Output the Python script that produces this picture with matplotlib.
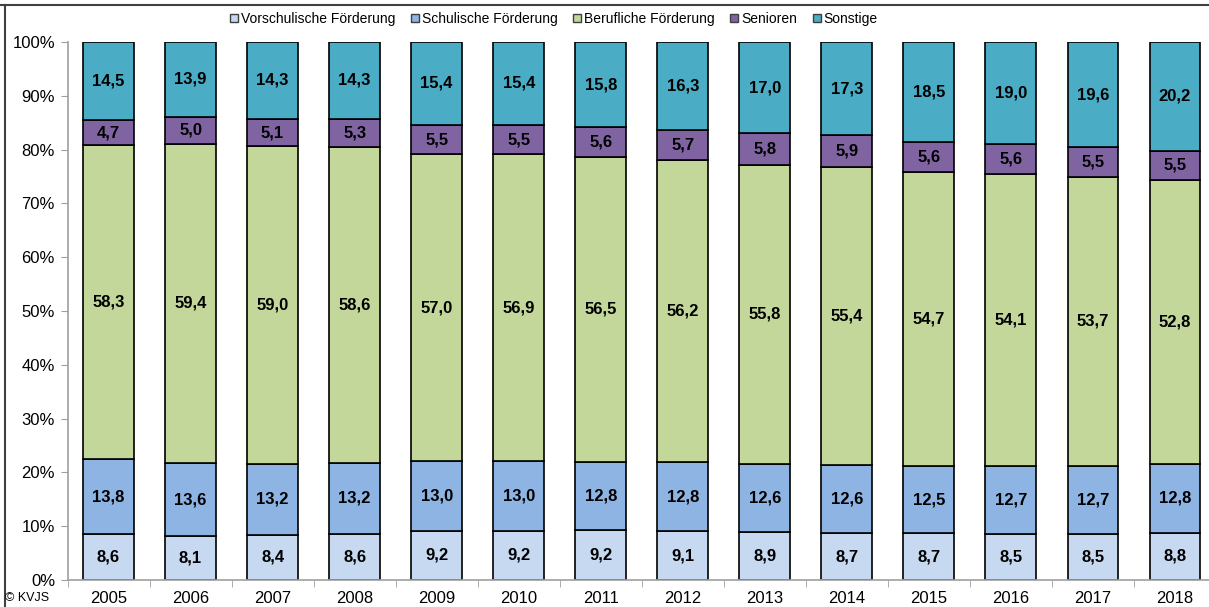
import numpy as np
import matplotlib.pyplot as plt
from matplotlib.lines import Line2D

plt.rcParams['font.family'] = ['Liberation Sans', 'DejaVu Sans']

jahre = ['2005', '2006', '2007', '2008', '2009', '2010', '2011',
         '2012', '2013', '2014', '2015', '2016', '2017', '2018']

vorschulisch = [8.6, 8.1, 8.4, 8.6, 9.2, 9.2, 9.2, 9.1, 8.9, 8.7, 8.7, 8.5, 8.5, 8.8]
schulisch = [13.8, 13.6, 13.2, 13.2, 13.0, 13.0, 12.8, 12.8, 12.6, 12.6, 12.5, 12.7, 12.7, 12.8]
beruflich = [58.3, 59.4, 59.0, 58.6, 57.0, 56.9, 56.5, 56.2, 55.8, 55.4, 54.7, 54.1, 53.7, 52.8]
senioren = [4.7, 5.0, 5.1, 5.3, 5.5, 5.5, 5.6, 5.7, 5.8, 5.9, 5.6, 5.6, 5.5, 5.5]
sonstige = [14.5, 13.9, 14.3, 14.3, 15.4, 15.4, 15.8, 16.3, 17.0, 17.3, 18.5, 19.0, 19.6, 20.2]

reihen = [
    ('Vorschulische Förderung', vorschulisch, '#C6D9F1'),
    ('Schulische Förderung', schulisch, '#8EB4E3'),
    ('Berufliche Förderung', beruflich, '#C4D79B'),
    ('Senioren', senioren, '#8064A2'),
    ('Sonstige', sonstige, '#4BACC6'),
]

# 100%-Stapel: jede Saeule auf ihre Summe bezogen
summe = np.sum([np.array(r[1]) for r in reihen], axis=0)

W, H = 1209, 607
fig = plt.figure(figsize=(W / 100, H / 100), dpi=100)
# plot area: 0% at y=580, 100% at y=42, x from 67.5 over 14 slots of 82 px
ax = fig.add_axes([67.5 / W, (H - 580) / H, 1148.5 / W, 538 / H])

x = np.arange(len(jahre))
unten = np.zeros(len(jahre))
handles = []
for name, werte, farbe in reihen:
    werte = np.array(werte)
    anteil = werte / summe * 100
    ax.bar(x, anteil, width=0.62, bottom=unten, color=farbe,
           edgecolor='black', linewidth=1.2, label=name)
    for xi, b, a, v in zip(x, unten, anteil, werte):
        ax.text(xi, b + a / 2, f'{v:.1f}'.replace('.', ','), ha='center',
                va='center', fontsize=12, fontweight='bold', color='black')
    unten += anteil
    handles.append(Line2D([], [], marker='s', linestyle='none', markersize=5.5,
                          markerfacecolor=farbe, markeredgecolor='#404040',
                          markeredgewidth=1.0, label=name))

ax.set_xlim(-0.5, len(jahre) - 0.5)
ax.set_ylim(0, 100)
ax.set_yticks(np.arange(0, 101, 10))
ax.set_yticklabels([f'{v}%' for v in range(0, 101, 10)], fontsize=12)
ax.set_xticks(x)
ax.set_xticklabels(jahre, fontsize=12)
ax.set_xticks(np.arange(-0.5, len(jahre), 1), minor=True)
ax.tick_params(axis='x', which='major', length=0, pad=8)
ax.tick_params(axis='x', which='minor', length=5, color='#A0A0A0', direction='out')
ax.tick_params(axis='y', length=5, color='#A0A0A0', direction='out', pad=4)
for s in ['top', 'right']:
    ax.spines[s].set_visible(False)
for s in ['left', 'bottom']:
    ax.spines[s].set_color('#A0A0A0')
    ax.spines[s].set_linewidth(1.2)

fig.legend(handles=handles, loc='center', bbox_to_anchor=(554 / W, 1 - 19 / H),
           ncol=5, frameon=False, fontsize=10, handlelength=0.6,
           handletextpad=0.2, columnspacing=1.1, borderaxespad=0)

fig.text(5 / W, 1 - 598 / H, '© KVJS', fontsize=9, va='center', ha='left')

# outer frame lines
fig.add_artist(Line2D([0, 1], [1 - 4.5 / H, 1 - 4.5 / H], color='#404040', linewidth=1.5))
fig.add_artist(Line2D([4.5 / W, 4.5 / W], [0, 1 - 4.5 / H], color='#404040', linewidth=1.5))

fig.savefig('out.png', dpi=100)
